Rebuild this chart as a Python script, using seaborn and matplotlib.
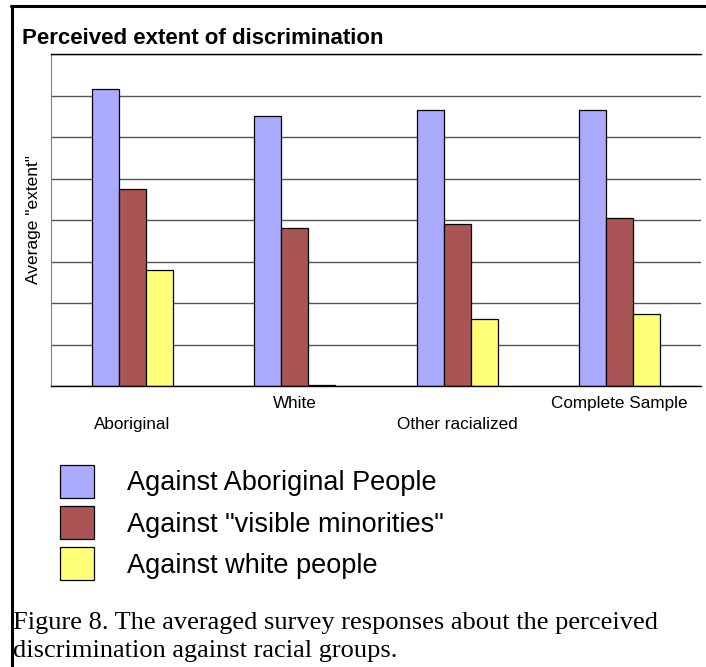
import numpy as np
import pandas as pd
import seaborn as sns
from matplotlib import pyplot as plt
from matplotlib.lines import Line2D

groups = ['Aboriginal', 'White', 'Other racialized', 'Complete Sample']
series = ['Against Aboriginal People', 'Against "visible minorities"', 'Against white people']
against_aboriginal = [7.15, 6.50, 6.65, 6.65]
against_visible = [4.74, 3.80, 3.90, 4.04]
against_white = [2.80, 0.03, 1.61, 1.74]
colors = ['#AAAAFF', '#AA5555', '#FFFF77']

df = pd.DataFrame({
    'group': groups * 3,
    'series': np.repeat(series, 4),
    'extent': against_aboriginal + against_visible + against_white,
})

sns.set_style('white')
plt.rcParams['font.family'] = ['Liberation Sans', 'DejaVu Sans']
plt.rcParams['text.color'] = 'black'
plt.rcParams['axes.labelcolor'] = 'black'
plt.rcParams['xtick.color'] = 'black'

W, H = 706, 667
fig = plt.figure(figsize=(W / 100, H / 100), dpi=100)
ax = fig.add_axes([51 / W, 1 - 386 / H, 650 / W, 332 / H])

sns.barplot(data=df, x='group', y='extent', hue='series', order=groups,
            hue_order=series, palette=colors, width=0.5, saturation=1,
            edgecolor='black', linewidth=0.9, ax=ax)

ax.set_xlim(-0.5, 3.5)
ax.set_ylim(0, 8)
ax.set_yticks(range(9))
ax.set_yticklabels([])
ax.yaxis.grid(True, color='#555555', linewidth=1)
ax.set_axisbelow(True)
ax.tick_params(axis='both', length=0)
for side in ['top', 'bottom']:
    ax.spines[side].set_color('black')
    ax.spines[side].set_linewidth(1)
ax.spines['left'].set_color('#808080')
ax.spines['right'].set_visible(False)

ax.set_xlabel('')
ax.set_ylabel('Average "extent"', fontsize=12.5, labelpad=4)
ax.set_xticks(range(4))
ax.set_xticklabels(groups, fontsize=12.3)
for i, tick in enumerate(ax.xaxis.get_major_ticks()):
    tick.set_pad(22 if i % 2 == 0 else 7.5)

fig.text(22 / W, 1 - 38 / H, 'Perceived extent of discrimination',
         fontsize=16, fontweight='bold', va='center')

sns.move_legend(ax, 'upper left', bbox_to_anchor=(60 / W, 1 - 465 / H),
                bbox_transform=fig.transFigure, frameon=False, title=None,
                fontsize=19.5, handlelength=1.26, handleheight=1.5,
                labelspacing=0.3, handletextpad=1.22, borderpad=0,
                borderaxespad=0)

caption = ('Figure 8. The averaged survey responses about the perceived\n'
           'discrimination against racial groups.')
fig.text(13 / W, 1 - 637 / H, caption, family='Liberation Serif',
         fontsize=19, va='center', linespacing=1.32)

fig.add_artist(Line2D([12 / W, 12 / W], [0, 1 - 6 / H], color='black',
                      linewidth=2.2, transform=fig.transFigure))
fig.add_artist(Line2D([11 / W, 1], [1 - 6 / H, 1 - 6 / H], color='black',
                      linewidth=2.2, transform=fig.transFigure))

plt.savefig('out.png', dpi=100)
